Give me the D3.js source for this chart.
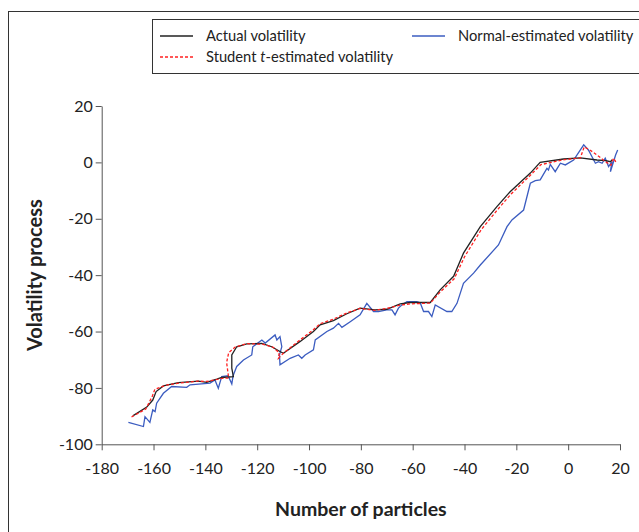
<!DOCTYPE html>
<html>
<head>
<meta charset="utf-8">
<script src="https://cdn.jsdelivr.net/npm/d3@7"></script>
<style>
  body { margin: 0; background: #fff; }
  text { font-family: Lato, "Open Sans", sans-serif; fill: #222; }
</style>
</head>
<body>
<svg id="chart" width="639" height="532"></svg>
<script>
const width = 639;
const height = 532;
const margin = { left: 101.7, top: 106, right: 19, bottom: 87.7 };

// series: [number of particles, volatility]
const actual = [
  [-168.0,-89.9],[-162.6,-86.8],[-160.3,-84.3],[-159.0,-81.3],[-156.2,-79.3],[-150.4,-78.1],
  [-142.7,-77.6],[-139.5,-78.0],[-135.6,-76.9],[-133.7,-76.3],[-129.2,-76.0],[-129.8,-73.0],
  [-129.8,-68.3],[-127.9,-65.4],[-124.0,-64.4],[-118.2,-64.2],[-114.4,-65.4],[-111.2,-67.1],
  [-109.9,-67.7],[-103.4,-63.5],[-98.3,-60.0],[-95.7,-57.6],[-90.6,-56.1],[-85.4,-53.7],
  [-80.3,-51.7],[-74.5,-52.3],[-70.0,-52.1],[-64.8,-50.2],[-61.0,-49.7],[-53.2,-49.7],
  [-49.4,-45.2],[-44.2,-40.4],[-40.4,-32.2],[-33.9,-22.8],[-27.5,-15.7],[-22.4,-10.4],
  [-14.6,-3.8],[-10.8,0.0],[-1.8,1.2],[4.7,1.6],[11.1,0.85],[14.5,0.6],[16.3,0.25],[17.0,1.0]
];
const studentT = [
  [-168.5,-90.3],[-163.0,-87.5],[-160.5,-83.0],[-159.5,-80.5],[-155.0,-79.0],[-150.0,-78.3],
  [-143.0,-77.6],[-139.5,-77.7],[-135.5,-77.0],[-133.5,-76.6],[-131.0,-76.5],[-131.8,-71.0],
  [-131.0,-67.5],[-128.5,-65.5],[-124.0,-64.3],[-118.0,-64.5],[-114.0,-65.5],[-111.5,-67.5],
  [-111.8,-69.5],[-110.0,-67.8],[-103.5,-63.0],[-98.5,-59.5],[-95.7,-57.2],[-90.6,-55.6],
  [-85.4,-53.4],[-80.3,-51.8],[-74.5,-52.5],[-70.0,-51.8],[-64.8,-50.6],[-61.0,-50.2],
  [-53.2,-49.9],[-49.4,-46.0],[-44.0,-41.3],[-40.0,-33.5],[-33.5,-23.8],[-27.0,-16.5],
  [-22.0,-11.2],[-14.5,-4.5],[-10.5,-0.8],[-2.0,0.9],[4.7,1.6],[6.2,5.5],[9.0,4.0],
  [12.0,2.0],[14.0,0.5],[16.5,-1.0],[17.5,1.5],[18.5,0.0]
];
const normal = [
  [-169.7,-92.2],[-163.9,-93.7],[-163.3,-90.2],[-161.4,-92.2],[-160.3,-87.8],[-159.4,-88.4],
  [-158.8,-85.4],[-156.2,-81.9],[-153.0,-79.5],[-147.2,-79.8],[-145.9,-78.9],[-138.2,-78.3],
  [-136.3,-77.2],[-135.0,-80.1],[-133.7,-76.0],[-131.2,-75.7],[-129.8,-78.6],[-129.3,-75.7],
  [-127.9,-72.4],[-125.3,-70.1],[-122.1,-68.3],[-121.7,-65.4],[-118.2,-63.0],[-116.9,-64.1],
  [-113.1,-61.2],[-112.4,-63.0],[-111.2,-61.8],[-110.5,-65.4],[-111.4,-68.3],[-111.2,-71.8],
  [-107.3,-69.5],[-104.1,-68.3],[-102.8,-69.5],[-101.5,-68.3],[-98.3,-66.5],[-97.6,-63.0],
  [-93.1,-60.0],[-90.6,-58.8],[-88.6,-57.1],[-87.3,-58.5],[-84.1,-56.5],[-80.3,-54.1],
  [-77.7,-50.0],[-75.1,-52.9],[-73.2,-52.9],[-70.0,-52.3],[-68.0,-52.3],[-66.8,-54.1],
  [-65.5,-51.7],[-64.2,-50.6],[-62.2,-49.4],[-58.4,-49.4],[-57.1,-49.8],[-55.8,-52.9],
  [-53.9,-52.9],[-52.6,-54.7],[-51.3,-50.6],[-46.8,-52.9],[-44.9,-52.9],[-42.9,-50.0],
  [-40.4,-42.9],[-36.5,-39.3],[-33.9,-36.4],[-26.9,-29.3],[-23.6,-22.8],[-21.7,-20.4],
  [-17.2,-16.9],[-14.6,-7.4],[-12.7,-6.5],[-10.8,-6.2],[-8.2,-2.1],[-7.6,-2.7],[-6.9,-0.7],
  [-5.0,-3.3],[-3.0,-0.3],[-1.1,-0.9],[2.1,0.85],[6.0,6.2],[7.8,4.4],[9.2,2.0],[10.5,-0.3],
  [11.7,0.25],[13.1,-0.3],[14.3,1.5],[15.6,-1.5],[16.9,0.25],[16.3,-3.3],[18.3,2.6],[19.1,4.4]
];

const xTicks = [-180,-160,-140,-120,-100,-80,-60,-40,-20,0,20];
const yTicks = [-100,-80,-60,-40,-20,0,20];

const legendItems = [
  { name: 'Actual volatility', color: '#222', dash: null },
  { name: 'Normal-estimated volatility', color: '#3b5cc0', dash: null },
  { name: 'Student t-estimated volatility', color: '#ff2020', dash: '3,2' }
];

const svg = d3.select('#chart');

// outer frame
svg.append('rect')
  .attr('x', 8.5).attr('y', 11.5)
  .attr('width', 700).attr('height', 600)
  .attr('fill', 'none').attr('stroke', '#333').attr('stroke-width', 1);

let x = d3.scaleLinear().domain([-180, 20]).range([margin.left, width - margin.right]);
let y = d3.scaleLinear().domain([-100, 20]).range([height - margin.bottom, margin.top]);

let line = d3.line().x(d => x(d[0])).y(d => y(d[1]));

// axes (plain hyphen minus like the original)
let fmt = d => String(d);
let xAxis = svg.append('g')
  .attr('transform', 'translate(0,' + y(-100) + ')')
  .call(d3.axisBottom(x).tickValues(xTicks).tickSize(6).tickSizeOuter(0).tickFormat(fmt));
let yAxis = svg.append('g')
  .attr('transform', 'translate(' + x(-180) + ',0)')
  .call(d3.axisLeft(y).tickValues(yTicks).tickSize(6).tickSizeOuter(0).tickFormat(fmt));

[xAxis, yAxis].forEach(a => {
  a.select('.domain').attr('stroke', '#555');
  a.selectAll('.tick line').attr('stroke', '#555');
  a.selectAll('.tick text')
    .attr('font-size', 16)
    .attr('font-family', 'Lato, sans-serif')
    .attr('fill', '#222');
});
xAxis.selectAll('.tick text').attr('dy', '1.3em');
yAxis.selectAll('.tick text').attr('x', -9);

// series
svg.append('path').datum(normal)
  .attr('d', line).attr('fill', 'none')
  .attr('stroke', '#3b5cc0').attr('stroke-width', 1.3);
svg.append('path').datum(actual)
  .attr('d', line).attr('fill', 'none')
  .attr('stroke', '#222').attr('stroke-width', 1.3);
svg.append('path').datum(studentT)
  .attr('d', line).attr('fill', 'none')
  .attr('stroke', '#ff2020').attr('stroke-width', 1.3)
  .attr('stroke-dasharray', '3,2');

// axis titles
svg.append('text')
  .attr('x', (x(-180) + x(20)) / 2).attr('y', 516)
  .attr('text-anchor', 'middle')
  .attr('font-size', 19.5).attr('font-weight', 'bold')
  .text('Number of particles');
svg.append('text')
  .attr('transform', 'translate(42,' + ((y(-100) + y(20)) / 2) + ') rotate(-90)')
  .attr('text-anchor', 'middle')
  .attr('font-size', 20).attr('font-weight', 'bold')
  .text('Volatility process');

// legend
let legend = svg.append('g');
legend.append('rect')
  .attr('x', 152.5).attr('y', 19.5)
  .attr('width', 600).attr('height', 54)
  .attr('fill', '#fff').attr('stroke', '#333').attr('stroke-width', 1);

let legendPos = [[160, 36], [412, 36], [160, 57]];
legendItems.forEach((d, i) => {
  let [lx, ly] = legendPos[i];
  legend.append('line')
    .attr('x1', lx).attr('x2', lx + 33).attr('y1', ly).attr('y2', ly)
    .attr('stroke', d.color).attr('stroke-width', 1.3)
    .attr('stroke-dasharray', d.dash);
  let t = legend.append('text')
    .attr('x', lx + 46).attr('y', ly + 5)
    .attr('font-size', 14.7);
  if (d.name.indexOf(' t-') > -1) {
    t.append('tspan').text('Student ');
    t.append('tspan').attr('font-style', 'italic').text('t');
    t.append('tspan').text('-estimated volatility');
  } else {
    t.text(d.name);
  }
});
</script>
</body>
</html>
